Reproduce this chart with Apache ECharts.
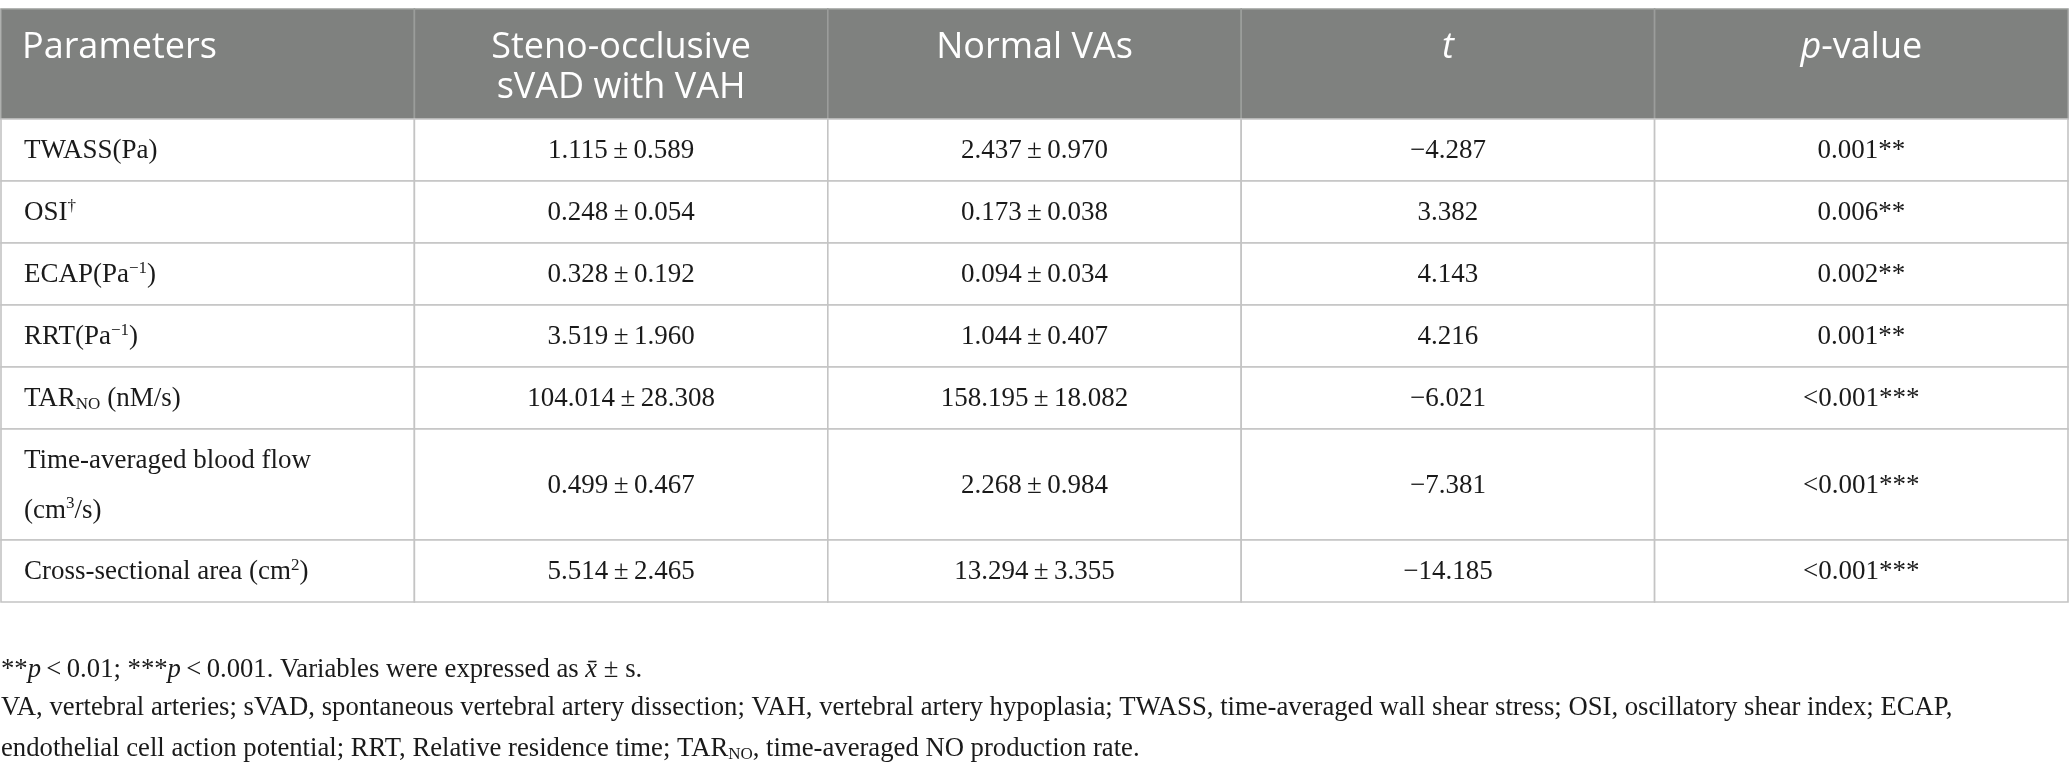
<!DOCTYPE html>
<html>
<head>
<meta charset="utf-8">
<script src="https://cdn.jsdelivr.net/npm/echarts@6/dist/echarts.min.js"></script>
<style>
  html, body { margin: 0; padding: 0; background: #fff; }
  #main { width: 2069px; height: 767px; }
</style>
</head>
<body>
<div id="main"></div>
<script>
// table content
var headers = ['Parameters', 'Steno-occlusive\nsVAD with VAH', 'Normal VAs', '{i|t}', '{i|p}-value'];
var params = [
  'TWASS(Pa)',
  'OSI{sup|†}',
  'ECAP(Pa{sup|−1})',
  'RRT(Pa{sup|−1})',
  'TAR{sub|NO} (nM/s)',
  'Time-averaged blood flow\n(cm{sup|3}/s)',
  'Cross-sectional area (cm{sup|2})'
];
var stenoMean = [1.115, 0.248, 0.328, 3.519, 104.014, 0.499, 5.514];
var stenoSd = [0.589, 0.054, 0.192, 1.960, 28.308, 0.467, 2.465];
var normalMean = [2.437, 0.173, 0.094, 1.044, 158.195, 2.268, 13.294];
var normalSd = [0.970, 0.038, 0.034, 0.407, 18.082, 0.984, 3.355];
var tValues = [-4.287, 3.382, 4.143, 4.216, -6.021, -7.381, -14.185];
var pValues = ['0.001**', '0.006**', '0.002**', '0.001**', '<0.001***', '<0.001***', '<0.001***'];
var footnotes = [
  '**{i|p}\u2009<\u20090.01; ***{i|p}\u2009<\u20090.001. Variables were expressed as {i|x\u0304} ± s.',
  'VA, vertebral arteries; sVAD, spontaneous vertebral artery dissection; VAH, vertebral artery hypoplasia; TWASS, time-averaged wall shear stress; OSI, oscillatory shear index; ECAP,',
  'endothelial cell action potential; RRT, Relative residence time; TAR{sub|NO}, time-averaged NO production rate.'
];

// row heights in "row units" (header and the two-line row are taller)
var rowUnits = [1.774, 1, 1, 1, 1, 1, 1.79, 1];
var rowEdges = [0];
rowUnits.forEach(function (u) { rowEdges.push(rowEdges[rowEdges.length - 1] + u); });

var SERIF = '"Liberation Serif", "Times New Roman", serif';
var SANS = '"Open Sans", "Noto Sans", sans-serif';

function num(v) {
  return v.toFixed(3).replace('-', '\u2212');
}
function pm(m, s) {
  return num(m) + '\u2009±\u2009' + num(s);
}

var cells = [];
headers.forEach(function (h, c) { cells.push([c, 0, h]); });
params.forEach(function (p, i) {
  var r = i + 1;
  cells.push([0, r, p]);
  cells.push([1, r, pm(stenoMean[i], stenoSd[i])]);
  cells.push([2, r, pm(normalMean[i], normalSd[i])]);
  cells.push([3, r, num(tValues[i])]);
  cells.push([4, r, pValues[i]]);
});

// sup / sub shifted with padding so they sit right whatever the line height
function bodyRich(size) {
  return {
    sup: { fontFamily: SERIF, fontSize: 17, lineHeight: 17, padding: [0, 0, 13, 0], fill: '#1a1a1a' },
    sub: { fontFamily: SERIF, fontSize: 17, lineHeight: 17, padding: [12, 0, 0, 0], fill: '#1a1a1a' },
    i: { fontFamily: SERIF, fontSize: size, fontStyle: 'italic', fill: '#1a1a1a' }
  };
}

function renderCell(params, api) {
  var col = api.value(0), row = api.value(1);
  var text = cells[params.dataIndex][2];
  var p0 = api.coord([col, rowEdges[row]]);
  var p1 = api.coord([col + 1, rowEdges[row + 1]]);
  var x = p0[0], y = p0[1], w = p1[0] - p0[0], h = p1[1] - p0[1];
  var isHead = row === 0;
  var children = [{
    type: 'rect',
    shape: { x: x, y: y, width: w, height: h },
    style: { fill: isHead ? '#7f817f' : '#fff', stroke: isHead ? '#9b9d9b' : '#c4c4c4', lineWidth: 1.6 }
  }];
  var left = col === 0;
  if (isHead) {
    children.push({
      type: 'text',
      style: {
        text: text,
        x: left ? x + 21 : x + w / 2,
        y: y + 19,
        align: left ? 'left' : 'center',
        verticalAlign: 'top',
        fontFamily: SANS, fontSize: 36, lineHeight: 40, fill: '#fff',
        rich: { i: { fontFamily: SANS, fontSize: 36, lineHeight: 40, fontStyle: 'italic', fill: '#fff' } }
      },
      z2: 10
    });
  } else {
    var tall = text.indexOf('\n') >= 0;
    children.push({
      type: 'text',
      style: {
        text: text,
        x: left ? x + 23 : x + w / 2,
        y: y + h / 2 + 1,
        align: left ? 'left' : 'center',
        verticalAlign: 'middle',
        fontFamily: SERIF, fontSize: 27, lineHeight: tall ? 50 : 30, fill: '#1a1a1a',
        rich: bodyRich(27)
      },
      z2: 10
    });
  }
  return { type: 'group', children: children };
}

var chart = echarts.init(document.getElementById('main'));
chart.setOption({
  animation: false,
  backgroundColor: '#fff',
  grid: { left: 1, right: 1, top: 9, bottom: 165 },
  xAxis: { type: 'value', min: 0, max: headers.length, show: false },
  yAxis: { type: 'value', min: 0, max: rowEdges[rowEdges.length - 1], inverse: true, show: false },
  series: [{
    type: 'custom',
    renderItem: renderCell,
    data: cells.map(function (c) { return [c[0], c[1]]; }),
    silent: true
  }],
  graphic: footnotes.map(function (f, k) {
    return {
      type: 'text',
      x: 1,
      y: [670, 708, 749][k],
      style: {
        text: f,
        fontFamily: SERIF, fontSize: 26.7, lineHeight: 30, fill: '#1a1a1a',
        verticalAlign: 'middle',
        rich: bodyRich(26.7)
      }
    };
  })
});
</script>
</body>
</html>
